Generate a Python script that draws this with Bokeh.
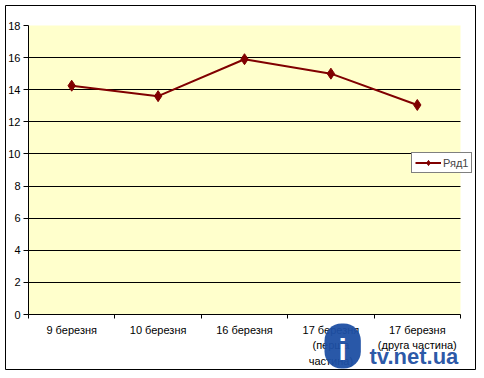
from bokeh.plotting import figure
from bokeh.models import (Range1d, FixedTicker, LinearAxis, Legend, LegendItem,
                          BoxAnnotation, Label)
from bokeh.embed import file_html
from bokeh.resources import INLINE

categories = ["9 березня", "10 березня", "16 березня",
              "17 березня\n(перша\nчастина)", "17 березня\n(друга частина)"]
values = [14.25, 13.6, 15.9, 15.0, 13.05]
series_name = "Ряд1"
y_ticks = [0, 2, 4, 6, 8, 10, 12, 14, 16, 18]
y_max = 18

FONT = "Liberation Sans"
n = len(categories)
xs = [i + 0.5 for i in range(n)]

# layout: outer margin, chart box (frame) and plot area inside it, in px
M = 5
FW, FH = 471, 365
PA_L, PA_R, PA_T, PA_B = 23, 455, 20, 309
sx = (PA_R - PA_L) / n
sy = (PA_B - PA_T) / y_max

p = figure(width=M + FW, height=M + FH,
           x_range=Range1d(-PA_L / sx, n + (FW - PA_R) / sx),
           y_range=Range1d(-(FH - PA_B) / sy, y_max + PA_T / sy),
           output_backend="svg", toolbar_location=None,
           x_axis_location=None, y_axis_location=None,
           min_border_left=M, min_border_top=M, min_border_right=0,
           min_border_bottom=0,
           background_fill_color="white", border_fill_color="white",
           outline_line_color="black", outline_line_width=1)

p.add_layout(BoxAnnotation(left=0, right=n, bottom=0, top=y_max,
                           fill_color="#FFFFCC", fill_alpha=1,
                           line_color=None, level="image"))

yaxis = LinearAxis(ticker=FixedTicker(ticks=y_ticks, minor_ticks=[]),
                   fixed_location=0, bounds=(0, y_max),
                   major_tick_out=5, major_tick_in=0, minor_tick_out=0,
                   major_label_standoff=3, axis_line_color="black",
                   major_tick_line_color="black",
                   major_label_text_font=FONT, major_label_text_font_size="11px",
                   major_label_text_color="black")
p.add_layout(yaxis, "left")

xaxis = LinearAxis(ticker=FixedTicker(ticks=xs, minor_ticks=list(range(n + 1))),
                   fixed_location=0, bounds=(0, n),
                   major_tick_line_color=None, major_tick_out=0, major_tick_in=0,
                   minor_tick_out=4, minor_tick_in=0, minor_tick_line_color="black",
                   axis_line_color="black", major_label_standoff=5,
                   major_label_overrides={x: c for x, c in zip(xs, categories)},
                   major_label_text_font=FONT, major_label_text_font_size="11px",
                   major_label_text_color="black",
                   major_label_text_line_height=1.3)
p.add_layout(xaxis, "below")

p.xgrid.visible = False
p.ygrid.ticker = FixedTicker(ticks=y_ticks[1:-1])
p.ygrid.cross_bounds = (0, n)
p.ygrid.grid_line_color = "black"
p.ygrid.grid_line_width = 1
p.ygrid.level = "underlay"

ln = p.line(xs, values, line_color="#800000", line_width=2)
sc = p.scatter(xs, values, marker="diamond", size=11, fill_color="#800000",
               line_color="#800000")

legend = Legend(items=[LegendItem(label=series_name, renderers=[ln, sc])],
                location=(406, 197), border_line_color="black",
                border_line_width=1, background_fill_color="white",
                background_fill_alpha=1, padding=3, margin=0, spacing=0,
                glyph_width=26, glyph_height=13, label_standoff=2,
                label_text_font=FONT, label_text_font_size="11px",
                label_height=13)
p.add_layout(legend, "center")

blob = Label(x=319, y=2, x_units="screen", y_units="screen", text="i",
             text_font=FONT, text_font_style="bold", text_font_size="30px",
             text_color="white", text_align="left", text_baseline="bottom",
             background_fill_color="#1E4FA3", background_fill_alpha=0.95,
             border_radius=17, padding=dict(left=14, right=14, top=9, bottom=3))
p.add_layout(blob)

wm = Label(x=364, y=14, x_units="screen", y_units="screen", text="tv.net.ua",
           text_font=FONT, text_font_style="bold", text_font_size="22px",
           text_color="#1E4FA3", text_alpha=0.95, text_baseline="alphabetic")
p.add_layout(wm)

open("out.html", "w").write(file_html(p, INLINE))
